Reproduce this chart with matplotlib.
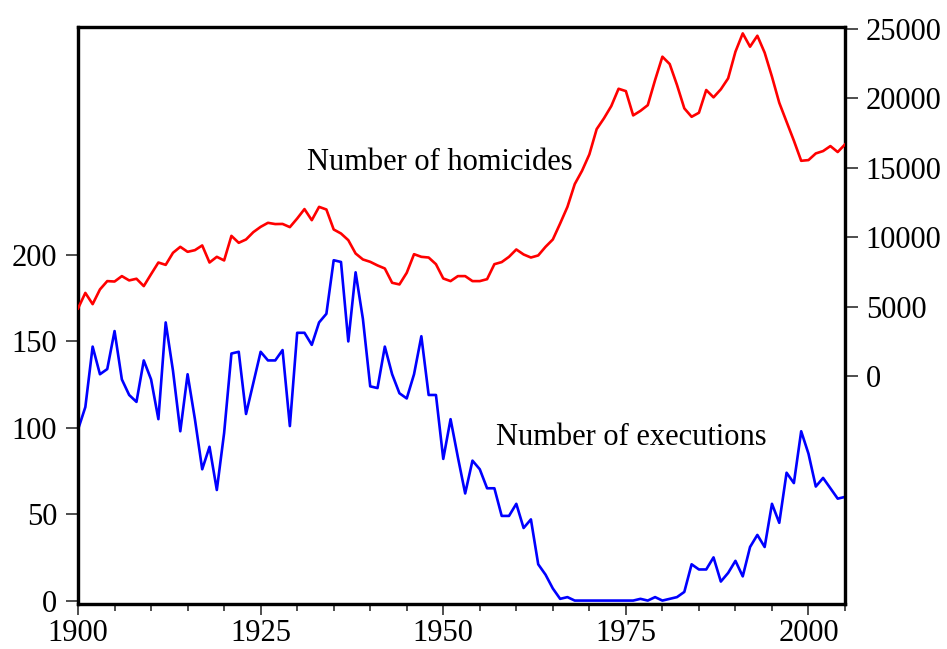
import matplotlib
matplotlib.use('Agg')
import matplotlib.pyplot as plt
import numpy as np
from matplotlib.ticker import MultipleLocator

plt.rcParams['font.family'] = ['Liberation Serif', 'DejaVu Serif']

# annual series, 1900-2005
years = list(range(1900, 2006))

executions = [
    99, 112, 147, 131, 134, 156, 128, 119, 115, 139,
    128, 105, 161, 133, 98, 131, 105, 76, 89, 64,
    97, 143, 144, 108, 126, 144, 139, 139, 145, 101,
    155, 155, 148, 161, 166, 197, 196, 150, 190, 163,
    124, 123, 147, 131, 120, 117, 131, 153, 119, 119,
    82, 105, 83, 62, 81, 76, 65, 65, 49, 49,
    56, 42, 47, 21, 15, 7, 1, 2, 0, 0,
    0, 0, 0, 0, 0, 0, 0, 1, 0, 2,
    0, 1, 2, 5, 21, 18, 18, 25, 11, 16,
    23, 14, 31, 38, 31, 56, 45, 74, 68, 98,
    85, 66, 71, 65, 59, 60,
]

homicides = [
    4860, 5980, 5170, 6230, 6830, 6800, 7190, 6880, 7000, 6470,
    7330, 8170, 8000, 8870, 9300, 8940, 9060, 9400, 8170, 8580,
    8320, 10090, 9590, 9830, 10360, 10740, 11030, 10940, 10950, 10720,
    11340, 12020, 11220, 12180, 11990, 10550, 10260, 9780, 8820, 8390,
    8220, 7960, 7740, 6710, 6590, 7430, 8770, 8580, 8530, 8050,
    7020, 6830, 7190, 7190, 6830, 6830, 6970, 8050, 8200, 8580,
    9110, 8750, 8530, 8680, 9300, 9830, 10980, 12180, 13820, 14780,
    15960, 17780, 18560, 19440, 20690, 20520, 18770, 19100, 19510, 21320,
    23000, 22470, 20960, 19280, 18670, 18960, 20600, 20070, 20650, 21440,
    23360, 24680, 23720, 24510, 23290, 21560, 19680, 18310, 16950, 15500,
    15550, 16030, 16200, 16560, 16130, 16680,
]

left_ticks = [0, 50, 100, 150, 200]
right_ticks = [0, 5000, 10000, 15000, 20000, 25000]

fig = plt.figure(figsize=(9.47, 6.49), dpi=100)
ax = fig.add_axes([0.0824, 0.0701, 0.8099, 0.8883])
ax2 = ax.twinx()

ax.plot(years, executions, color='#0000ff', lw=1.9, zorder=3)
ax2.plot(years, homicides, color='#ff0000', lw=1.9, zorder=3)

ax.set_xlim(1900, 2005)
ax.set_ylim(-1.7, 332)
ax2.set_ylim(-16400, 25140)

ax.xaxis.set_major_locator(MultipleLocator(25))
ax.xaxis.set_minor_locator(MultipleLocator(5))
ax.set_yticks(left_ticks)
ax2.set_yticks(right_ticks)

for a in (ax, ax2):
    for s in a.spines.values():
        s.set_linewidth(2.3)
    a.tick_params(axis='both', which='major', direction='out', labelsize=22,
                  width=1.2, length=9, pad=6, color='#303030')

ax.tick_params(axis='x', which='major', length=8, pad=3)
ax.tick_params(axis='x', which='minor', direction='out', length=5, width=1.2, color='#303030')

ax.text(1931.4, 249, 'Number of homicides', fontsize=22, ha='left', va='baseline')
ax.text(1957.2, 90, 'Number of executions', fontsize=22, ha='left', va='baseline')

fig.savefig('out.png', dpi=100)
